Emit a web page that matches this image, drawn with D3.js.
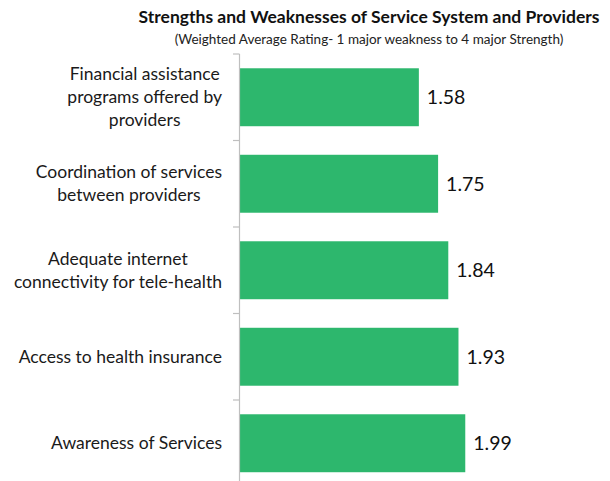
<!DOCTYPE html>
<html>
<head>
<meta charset="utf-8">
<script src="https://cdn.jsdelivr.net/npm/d3@7"></script>
<style>
  body { margin: 0; background: #fff; }
  svg { font-family: Lato, 'Open Sans', sans-serif; }
</style>
</head>
<body>
<svg id="chart" width="610" height="481"></svg>
<script>
'use strict';

const categories = [
  'Financial assistance\nprograms offered by\nproviders',
  'Coordination of services\nbetween providers',
  'Adequate internet\nconnectivity for tele-health',
  'Access to health insurance',
  'Awareness of Services'
];
const values = [1.58, 1.75, 1.84, 1.93, 1.99];

const title = 'Strengths and Weaknesses of Service System and Providers';
const subtitle = '(Weighted Average Rating- 1 major weakness to 4 major Strength)';

const svg = d3.select('#chart');

const x = d3.scaleLinear()
  .domain([0, 2.5])
  .range([240, 523]);

const y = d3.scaleBand()
  .domain(categories)
  .range([54, 486.5])
  .paddingInner(0.33)
  .paddingOuter(0.165);

// title
svg.append('text')
  .attr('x', 369)
  .attr('y', 23)
  .attr('text-anchor', 'middle')
  .attr('font-weight', 'bold')
  .attr('font-size', 17.5)
  .attr('fill', '#111')
  .text(title);

svg.append('text')
  .attr('x', 369)
  .attr('y', 44)
  .attr('text-anchor', 'middle')
  .attr('font-size', 13.5)
  .attr('fill', '#222')
  .text(subtitle);

// bars
svg.append('g')
  .selectAll('rect')
  .data(categories)
  .enter().append('rect')
  .attr('x', x(0))
  .attr('y', d => y(d))
  .attr('width', (d, i) => x(values[i]) - x(0))
  .attr('height', y.bandwidth())
  .attr('fill', '#2db76d');

// value labels
svg.append('g')
  .selectAll('text')
  .data(categories)
  .enter().append('text')
  .attr('x', (d, i) => x(values[i]) + 8)
  .attr('y', d => y(d) + y.bandwidth() / 2)
  .attr('dy', '0.35em')
  .attr('font-size', 19.5)
  .attr('fill', '#111')
  .text((d, i) => values[i].toFixed(2));

// category axis (ticks between categories, excel style)
const gap = y.step() - y.bandwidth();
const bounds = categories.map(d => y(d) - gap / 2);
bounds.push(bounds[bounds.length - 1] + y.step());

const axis = svg.append('g').attr('stroke', '#bfbfbf').attr('stroke-width', 1.2);
axis.append('line')
  .attr('x1', x(0) - 0.5).attr('x2', x(0) - 0.5)
  .attr('y1', bounds[0]).attr('y2', bounds[bounds.length - 1]);
axis.selectAll('.tick')
  .data(bounds)
  .enter().append('line')
  .attr('x1', x(0) - 7).attr('x2', x(0) - 0.5)
  .attr('y1', d => d).attr('y2', d => d);

// category labels
const lineH = 23;
const labels = svg.append('g')
  .attr('font-size', 17.5)
  .attr('fill', '#1a1a1a');

categories.forEach(c => {
  const lines = c.split('\n');
  const t = labels.append('text').attr('text-anchor', 'middle');
  const mid = y(c) + y.bandwidth() / 2;
  lines.forEach((l, i) => {
    t.append('tspan')
      .attr('y', mid + (i - (lines.length - 1) / 2) * lineH)
      .attr('dy', '0.35em')
      .text(l);
  });
  let w = 0;
  t.selectAll('tspan').each(function () {
    w = Math.max(w, this.getComputedTextLength());
  });
  t.selectAll('tspan').attr('x', 222 - w / 2);
});
</script>
</body>
</html>
